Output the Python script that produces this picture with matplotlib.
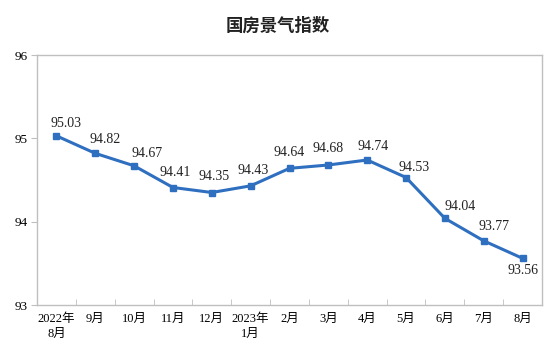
import numpy as np
import matplotlib
matplotlib.use('Agg')
import matplotlib.pyplot as plt
from matplotlib.ticker import FixedLocator

months = ['2022年\n8月', '9月', '10月', '11月', '12月', '2023年\n1月', '2月',
          '3月', '4月', '5月', '6月', '7月', '8月']
values = [95.03, 94.82, 94.67, 94.41, 94.35, 94.43, 94.64,
          94.68, 94.74, 94.53, 94.04, 93.77, 93.56]
title = '国房景气指数'

# label offsets in pixels (dx, dy)
offsets = [(10, 12), (10, 14), (13, 12), (2, 15), (2, 16), (2, 15), (0, 16),
           (0, 16), (6, 14), (8, 10), (15, 12), (10, 14), (0, -12)]

serif = ['Liberation Serif', 'Noto Sans CJK SC']
line_color = '#2f6fc0'
axis_color = '#bfbfbf'

fig = plt.figure(figsize=(5.56, 3.6), dpi=100)
ax = fig.add_axes([37/556, 1-305/360, 505/556, 250/360])

x = np.arange(len(values))
ax.plot(x, values, color=line_color, lw=2.2, marker='s', ms=4.4,
        solid_joinstyle='round')

for xi, v, (dx, dy) in zip(x, values, offsets):
    ax.annotate('%.2f' % v, (xi, v), xytext=(dx, dy), textcoords='offset pixels',
                ha='center', va='center', fontsize=10, family=serif, color='#222222')

ax.set_xlim(-0.5, len(values)-0.5)
ax.set_ylim(93, 96)
ax.set_yticks([93, 94, 95, 96])
ax.set_xticks(x)
ax.set_xticklabels(months, family=serif, fontsize=9, linespacing=1.3)
ax.xaxis.set_minor_locator(FixedLocator(np.arange(0.5, len(values)-1, 1)))
ax.tick_params(axis='x', which='major', length=0, pad=6)
ax.tick_params(axis='x', which='minor', direction='in', length=4, color=axis_color)
ax.tick_params(axis='y', length=4, color=axis_color, pad=3)
for lab in ax.get_yticklabels():
    lab.set_family(serif)
    lab.set_fontsize(9.5)

for s in ax.spines.values():
    s.set_color(axis_color)
    s.set_linewidth(1.0)

fig.text(0.5, 1-26/360, title, ha='center', va='center', fontsize=12.5,
         family=['Noto Sans CJK SC', 'DejaVu Sans'], color='#222222', fontweight='bold')

fig.savefig('out.png', dpi=100)
